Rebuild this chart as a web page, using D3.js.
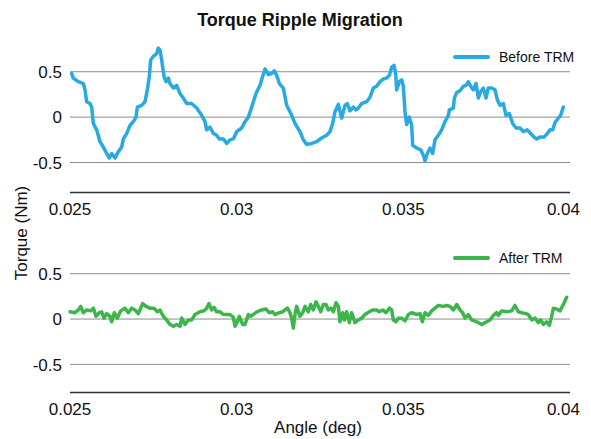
<!DOCTYPE html>
<html><head><meta charset="utf-8">
<script src="https://cdn.jsdelivr.net/npm/d3@7"></script>
<style>body{margin:0;background:#fff}text{font-family:"Liberation Sans",Arial,Helvetica,sans-serif}</style>
</head><body>
<svg id="c" width="591" height="439"></svg>
<script>
const title = "Torque Ripple Migration";
const xLabel = "Angle (deg)";
const yLabel = "Torque (Nm)";
const xTicks = [0.025, 0.03, 0.035, 0.04];
const xTickLabels = ["0.025", "0.03", "0.035", "0.04"];
const yTicks = [-0.5, 0, 0.5];
const yTickLabels = ["-0.5", "0", "0.5"];
const seriesNames = ["Before TRM", "After TRM"];
const seriesColors = ["#29a9e1", "#3cb64a"];

const beforeAngle = [0.02505,0.0251,0.02525,0.0254,0.02545,0.0255,0.0256,0.02565,0.0257,0.0258,0.0259,0.026,0.0261,0.02618,0.02625,0.02635,0.02645,0.02655,0.0266,0.0267,0.0268,0.0269,0.02698,0.02702,0.02715,0.02725,0.02732,0.02738,0.02742,0.0275,0.0276,0.02765,0.0277,0.02775,0.02782,0.02788,0.02795,0.028,0.0281,0.0282,0.0283,0.0284,0.0285,0.02865,0.0288,0.02895,0.02905,0.0291,0.0292,0.0293,0.0294,0.02948,0.0296,0.0297,0.0298,0.0299,0.03,0.03015,0.03025,0.03035,0.03045,0.03058,0.0307,0.03078,0.03085,0.03095,0.03105,0.03113,0.0312,0.03128,0.0314,0.0315,0.03165,0.03175,0.0319,0.032,0.0321,0.03225,0.0324,0.03255,0.0327,0.0328,0.03288,0.03295,0.03305,0.03315,0.03325,0.03332,0.0334,0.0335,0.03358,0.03365,0.03375,0.0339,0.034,0.0341,0.0342,0.0343,0.0344,0.0345,0.03458,0.03465,0.03472,0.03477,0.0348,0.03488,0.03495,0.035,0.03505,0.0351,0.03518,0.03525,0.03528,0.0354,0.03552,0.0356,0.03565,0.03572,0.0358,0.03588,0.03595,0.03605,0.03615,0.03625,0.03635,0.03638,0.0365,0.03653,0.0366,0.0367,0.0368,0.03688,0.03695,0.03702,0.0371,0.03718,0.03725,0.03732,0.0374,0.03748,0.03755,0.03765,0.03775,0.03782,0.0379,0.038,0.03808,0.03818,0.03828,0.03838,0.0385,0.0386,0.03872,0.03882,0.03892,0.039,0.0391,0.03922,0.0393,0.0394,0.03948,0.03955,0.03965,0.03972,0.0398];
const beforeTorque = [0.48,0.43,0.39,0.37,0.30,0.17,0.15,0.11,-0.07,-0.14,-0.27,-0.33,-0.40,-0.45,-0.40,-0.45,-0.38,-0.33,-0.24,-0.18,-0.09,-0.05,0.00,0.11,0.13,0.17,0.30,0.45,0.63,0.67,0.70,0.76,0.74,0.63,0.45,0.39,0.43,0.37,0.32,0.35,0.26,0.21,0.15,0.15,0.10,0.02,-0.05,-0.14,-0.11,-0.18,-0.20,-0.24,-0.24,-0.29,-0.25,-0.24,-0.16,-0.12,-0.05,0.00,0.11,0.26,0.35,0.45,0.53,0.47,0.48,0.51,0.46,0.37,0.32,0.13,0.02,-0.07,-0.16,-0.25,-0.30,-0.29,-0.27,-0.23,-0.20,-0.16,-0.07,0.06,0.14,-0.01,0.13,0.15,0.07,0.11,0.08,0.10,0.15,0.17,0.22,0.32,0.34,0.39,0.42,0.43,0.46,0.55,0.57,0.48,0.30,0.39,0.41,0.34,0.06,-0.08,0.00,-0.09,-0.31,-0.34,-0.36,-0.42,-0.48,-0.40,-0.34,-0.40,-0.25,-0.20,-0.14,-0.05,0.02,0.08,0.10,0.21,0.27,0.29,0.34,0.35,0.39,0.34,0.30,0.37,0.21,0.28,0.32,0.21,0.32,0.32,0.30,0.19,0.13,0.15,0.02,0.04,-0.07,-0.12,-0.12,-0.16,-0.14,-0.18,-0.22,-0.24,-0.22,-0.22,-0.19,-0.14,-0.14,-0.06,-0.01,0.02,0.11];

const afterAngle = [0.025,0.02515,0.02525,0.02532,0.0254,0.0255,0.02562,0.0257,0.02578,0.02588,0.02595,0.02602,0.0261,0.0262,0.02625,0.02633,0.02642,0.02652,0.02665,0.02675,0.02685,0.02695,0.02705,0.02718,0.02728,0.0274,0.02752,0.02762,0.0277,0.0278,0.0279,0.028,0.0281,0.0282,0.0283,0.02835,0.02845,0.02855,0.02865,0.02875,0.0289,0.02902,0.0291,0.02917,0.02925,0.02932,0.0294,0.0295,0.0296,0.0297,0.0298,0.0299,0.02995,0.03002,0.03008,0.03018,0.03025,0.03035,0.03042,0.0305,0.0306,0.03075,0.03088,0.03098,0.03108,0.03115,0.03128,0.03138,0.03145,0.03152,0.0316,0.03165,0.0317,0.03175,0.0318,0.0319,0.03198,0.03205,0.03215,0.03222,0.0323,0.03238,0.03245,0.03252,0.0326,0.03268,0.03275,0.03283,0.0329,0.03298,0.03305,0.0331,0.03318,0.03323,0.0333,0.03338,0.03345,0.03355,0.03365,0.03375,0.03385,0.03398,0.03408,0.0342,0.03428,0.03438,0.03448,0.03458,0.03465,0.0347,0.03478,0.03485,0.03495,0.03505,0.03515,0.03525,0.0354,0.0355,0.03557,0.03565,0.03575,0.03585,0.03595,0.03605,0.0362,0.0363,0.0364,0.0365,0.0366,0.0367,0.03678,0.03685,0.03695,0.03705,0.0372,0.03735,0.0375,0.0376,0.0377,0.0378,0.03785,0.03795,0.0381,0.03825,0.03835,0.03845,0.03855,0.03868,0.03875,0.03885,0.03895,0.03905,0.03912,0.0392,0.0393,0.03938,0.03945,0.0395,0.0396,0.0397,0.0398,0.0399];
const afterTorque = [0.08,0.07,0.10,0.14,0.07,0.10,0.09,0.12,0.03,0.07,0.08,0.01,0.06,0.03,-0.03,0.07,0.01,0.09,0.12,0.07,0.12,0.10,0.06,0.17,0.14,0.12,0.12,0.08,0.10,0.03,-0.01,-0.06,-0.08,-0.06,-0.08,0.01,-0.06,-0.01,-0.01,0.05,0.08,0.09,0.12,0.17,0.10,0.13,0.08,0.08,0.05,0.05,0.05,0.02,-0.08,-0.03,0.03,-0.06,-0.06,0.05,0.03,0.05,0.08,0.10,0.11,0.07,0.08,0.05,0.07,0.08,0.10,0.12,0.07,0.01,-0.10,0.05,0.14,0.03,0.07,0.14,0.08,0.16,0.10,0.19,0.14,0.08,0.16,0.16,0.10,0.12,0.08,0.18,0.14,-0.03,0.07,-0.01,0.08,-0.04,0.07,-0.04,-0.01,0.01,0.05,0.08,0.10,0.10,0.08,0.10,0.07,0.12,0.10,-0.01,-0.03,0.01,0.01,-0.02,0.05,0.07,0.05,0.06,-0.03,0.07,0.04,0.09,0.12,0.15,0.14,0.15,0.14,0.10,0.16,0.10,0.07,0.01,0.05,-0.01,-0.03,-0.06,-0.03,-0.01,0.04,0.07,0.04,0.09,0.08,0.09,0.15,0.08,0.07,0.06,0.05,-0.01,0.01,-0.04,-0.01,-0.06,-0.03,-0.07,0.03,0.12,0.11,0.09,0.16,0.24];

const svg = d3.select("#c");
const x = d3.scaleLinear().domain([0.025, 0.04]).range([70, 570]);
const labelRightLimit = 580;

const panels = [
  {angle: beforeAngle, torque: beforeTorque, name: seriesNames[0], color: seriesColors[0],
   y: d3.scaleLinear().domain([-0.83, 0.8]).range([192.5, 44.5]), axisY: 192.5, legendY: 57},
  {angle: afterAngle, torque: afterTorque, name: seriesNames[1], color: seriesColors[1],
   y: d3.scaleLinear().domain([-0.81, 0.8]).range([392.5, 246.5]), axisY: 392.5, legendY: 258}
];

svg.append("text").attr("x", 300).attr("y", 26).attr("text-anchor", "middle")
  .attr("font-size", 18).attr("font-weight", "bold").attr("fill", "#111").text(title);

panels.forEach(p => {
  const g = svg.append("g");
  g.selectAll("line.grid").data(yTicks).join("line")
    .attr("x1", 70).attr("x2", 570)
    .attr("y1", d => p.y(d)).attr("y2", d => p.y(d))
    .attr("stroke", "#8c8c8c").attr("stroke-width", 1);
  g.selectAll("text.yt").data(yTicks).join("text")
    .attr("x", 62).attr("y", d => p.y(d)).attr("dy", "0.36em")
    .attr("text-anchor", "end").attr("font-size", 17).attr("fill", "#111")
    .text((d, i) => yTickLabels[i]);
  g.append("line").attr("x1", 70).attr("x2", 570).attr("y1", p.axisY).attr("y2", p.axisY)
    .attr("stroke", "#333").attr("stroke-width", 1.5);
  g.selectAll("text.xt").data(xTicks).join("text")
    .attr("x", d => x(d)).attr("y", p.axisY + 22.5)
    .attr("text-anchor", "middle").attr("font-size", 17).attr("fill", "#111")
    .text((d, i) => xTickLabels[i])
    .each(function(d) {
      const w = this.getComputedTextLength();
      if (x(d) + w / 2 > labelRightLimit) d3.select(this).attr("x", labelRightLimit - w / 2);
    });
  const pts = p.angle.map((a, i) => [a, p.torque[i]]);
  g.append("path").datum(pts)
    .attr("fill", "none").attr("stroke", p.color).attr("stroke-width", 3.5)
    .attr("stroke-linejoin", "round").attr("stroke-linecap", "round")
    .attr("d", d3.line().x(d => x(d[0])).y(d => p.y(d[1])));
  g.append("line").attr("x1", 455).attr("x2", 488).attr("y1", p.legendY).attr("y2", p.legendY)
    .attr("stroke", p.color).attr("stroke-width", 4).attr("stroke-linecap", "round");
  g.append("text").attr("x", 499).attr("y", p.legendY).attr("dy", "0.35em")
    .attr("font-size", 14).attr("fill", "#111").text(p.name);
});

svg.append("text").attr("transform", "translate(27,233) rotate(-90)")
  .attr("text-anchor", "middle").attr("font-size", 17).attr("fill", "#111").text(yLabel);
svg.append("text").attr("x", 318).attr("y", 433)
  .attr("text-anchor", "middle").attr("font-size", 17).attr("fill", "#111").text(xLabel);
</script>
</body></html>
